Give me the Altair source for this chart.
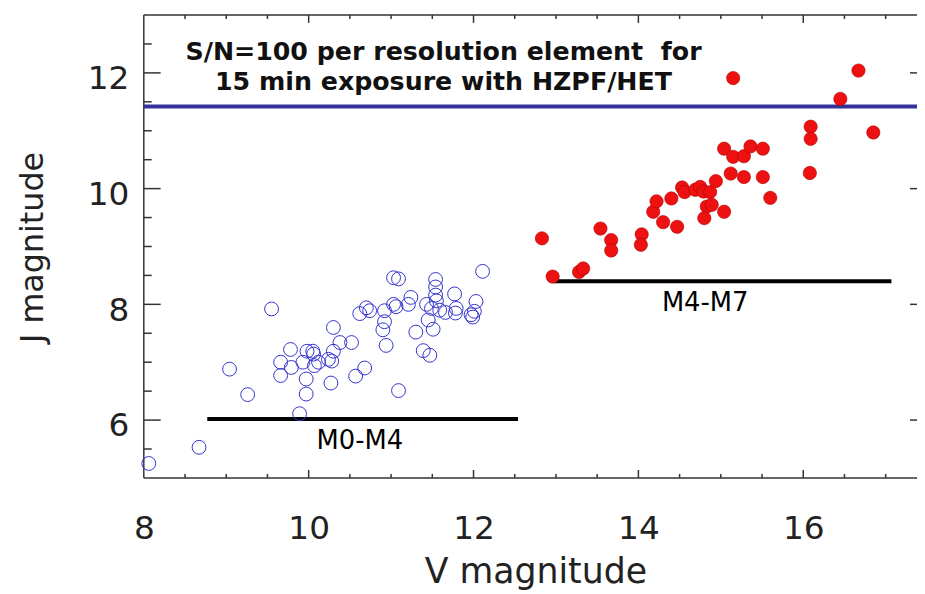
import altair as alt
import pandas as pd

# ---------------- data ----------------
v_m0m4 = [8.06, 8.67, 9.04, 9.26, 9.55, 9.89, 9.97, 9.97, 9.66, 9.66, 9.78, 9.79, 9.93, 9.98,
          10.05, 10.06, 10.07, 10.12, 10.24, 10.28, 10.30, 10.38, 10.30, 10.27, 10.52, 10.57,
          10.68, 10.62, 10.70, 10.74, 10.92, 10.92, 10.90, 10.94, 11.03, 11.09, 11.03, 11.06,
          11.09, 11.21, 11.24, 11.30, 11.39, 11.47, 11.43, 11.45, 11.51, 11.49, 11.54, 11.54,
          11.54, 11.55, 11.59, 11.66, 11.77, 11.79, 11.78, 11.97, 11.99, 12.03, 12.11, 12.01]
j_m0m4 = [5.25, 5.53, 6.88, 6.44, 7.92, 6.11, 6.45, 6.71, 6.77, 7.00, 7.22, 6.91, 7.00, 7.19,
          7.19, 7.14, 6.94, 7.00, 7.05, 7.02, 7.19, 7.34, 7.60, 6.64, 7.34, 6.76,
          6.90, 7.84, 7.94, 7.89, 7.89, 7.70, 7.56, 7.29, 8.46, 8.44, 8.00, 7.96,
          6.51, 8.00, 8.12, 7.52, 7.20, 7.12, 8.00, 7.73, 7.57, 7.93, 8.43, 8.30,
          8.16, 8.06, 7.90, 7.86, 8.18, 7.93, 7.85, 7.82, 7.78, 8.05, 8.57, 7.88]

v_m4m7 = [12.83, 12.96, 13.28, 13.33, 13.54, 13.67, 13.67, 14.04, 14.03, 14.18, 14.22, 14.30,
          14.40, 14.47, 14.53, 14.56, 14.69, 14.75, 14.79, 14.87, 14.83, 14.80, 14.89, 14.94,
          15.04, 15.04, 15.12, 15.15, 15.15, 15.28, 15.28, 15.36, 15.51, 15.51, 15.60, 16.09,
          16.09, 16.08, 16.45, 16.67, 16.85]
j_m4m7 = [9.14, 8.48, 8.56, 8.62, 9.31, 9.11, 8.93, 9.21, 9.03, 9.60, 9.78, 9.42,
          9.83, 9.34, 10.02, 9.94, 9.98, 10.03, 9.95, 9.94, 9.69, 9.49, 9.72, 10.13,
          9.60, 10.69, 10.26, 10.55, 11.91, 10.56, 10.20, 10.73, 10.69, 10.20, 9.84, 11.07,
          10.86, 10.27, 11.55, 12.04, 10.97]

sn_limit_j = 11.42
range_labels = ["M0-M4", "M4-M7"]
range_v_start = [8.77, 12.97]
range_v_end = [12.54, 17.07]
range_j = [6.02, 8.40]
range_label_v = [10.62, 14.81]
range_label_j = [5.50, 7.89]

note_lines = ["S/N=100 per resolution element\u00a0 for", "15 min exposure with HZPF/HET"]

x_frame = [8, 17.5]          # full frame of the original plot (right edge is cut off)
x_visible = [8, 17.38]       # part of it that is visible in the picture
y_domain = [5, 13]
x_labels = [8, 10, 12, 14, 16]
y_labels = [6, 8, 10, 12]
x_major = [10, 12, 14, 16]
x_minor = [8.5, 9, 9.5, 10.5, 11, 11.5, 12.5, 13, 13.5, 14.5, 15, 15.5, 16.5, 17]
y_major = [6, 8, 10, 12]
y_minor = [5.5, 6.5, 7, 7.5, 8.5, 9, 9.5, 10.5, 11, 11.5, 12.5]

# ---------------- layout / style ----------------
W, H = 780, 467
FONT = "DejaVu Sans"
INK = "#222222"
AX = "#333333"

xs = alt.Scale(domain=x_visible, nice=False, zero=False)
ys = alt.Scale(domain=y_domain, nice=False, zero=False)

xaxis = alt.Axis(title="V magnitude", values=x_labels, ticks=False, tickSize=0, domain=False,
                 grid=False, labelFont=FONT, labelFontSize=33, labelColor=INK, labelPadding=35,
                 labelBaseline="top", labelFlush=False, labelOverlap=False,
                 titleFont=FONT, titleFontSize=35, titleFontWeight="normal", titleColor=INK,
                 titleX=395, titleY=105, titleBaseline="alphabetic", titleAlign="center")
yaxis = alt.Axis(title="J magnitude", values=y_labels, ticks=False, tickSize=0, domain=False,
                 grid=False, labelFont=FONT, labelFontSize=33, labelColor=INK, labelPadding=15,
                 labelOffset=6, labelBaseline="middle", labelFlush=False, labelOverlap=False,
                 titleFont=FONT, titleFontSize=32, titleFontWeight="normal", titleColor=INK,
                 titleX=-102, titleY=234, titleAngle=270, titleBaseline="alphabetic",
                 titleAlign="center")


def X(field):
    return alt.X(field, type="quantitative", scale=xs, axis=xaxis)


def Y(field):
    return alt.Y(field, type="quantitative", scale=ys, axis=yaxis)


# frame: top, bottom and left edges (the right edge is cut off, as in the original)
top_df = pd.DataFrame({"a": [x_frame[0]], "b": [x_frame[1]], "j": [y_domain[1]]})
top_line = alt.Chart(top_df).mark_rule(color=AX, strokeWidth=1.5).encode(
    x=X("a"), x2="b", y=Y("j"))
bot_df = pd.DataFrame({"a": [x_frame[0]], "b": [x_frame[1]], "j": [y_domain[0]]})
bot_line = alt.Chart(bot_df).mark_rule(color=AX, strokeWidth=1.5).encode(
    x=X("a"), x2="b", y=Y("j"))
left_df = pd.DataFrame({"v": [x_frame[0]], "lo": [y_domain[0]], "hi": [y_domain[1]]})
left_line = alt.Chart(left_df).mark_rule(color=AX, strokeWidth=1.5).encode(
    x=X("v"), y=Y("lo"), y2="hi")


# ticks pointing inward on all four sides
def xticks(vals, length):
    df = pd.DataFrame({"v": vals, "lo": [y_domain[0]] * len(vals), "hi": [y_domain[1]] * len(vals)})
    bottom = alt.Chart(df).mark_rule(color=AX, strokeWidth=1.5, y2Offset=-length).encode(
        x=X("v"), y=Y("lo"), y2="lo")
    top = alt.Chart(df).mark_rule(color=AX, strokeWidth=1.5, y2Offset=length).encode(
        x=X("v"), y=Y("hi"), y2="hi")
    return [bottom, top]


def yticks(vals, length):
    df = pd.DataFrame({"j": vals, "lo": [x_frame[0]] * len(vals), "hi": [x_frame[1]] * len(vals)})
    left = alt.Chart(df).mark_rule(color=AX, strokeWidth=1.5, x2Offset=length).encode(
        y=Y("j"), x=X("lo"), x2="lo")
    right = alt.Chart(df).mark_rule(color=AX, strokeWidth=1.5, x2Offset=-length).encode(
        y=Y("j"), x=X("hi"), x2="hi")
    return [left, right]


tick_layers = xticks(x_major, 8) + xticks(x_minor, 4) + yticks(y_major, 17) + yticks(y_minor, 8)

# S/N limit line
sn_df = pd.DataFrame({"a": [x_frame[0]], "b": [x_frame[1]], "j": [sn_limit_j]})
sn_line = alt.Chart(sn_df).mark_rule(color="#333399", strokeWidth=4).encode(
    x=X("a"), x2="b", y=Y("j"))

# spectral type range bars and labels
rng_df = pd.DataFrame({"label": range_labels, "a": range_v_start, "b": range_v_end, "j": range_j,
                       "lv": range_label_v, "lj": range_label_j})
rng_bars = alt.Chart(rng_df).mark_rule(color="black", strokeWidth=4).encode(
    x=X("a"), x2="b", y=Y("j"))
rng_text = alt.Chart(rng_df).mark_text(font=FONT, fontSize=26, color="black",
                                       baseline="alphabetic", align="center").encode(
    x=X("lv"), y=Y("lj"), text="label")

# annotation
note_df = pd.DataFrame({"v": [11.636], "j": [12.227]})
note = alt.Chart(note_df).mark_text(font=FONT, fontSize=25.5, fontWeight="bold", color="#111111",
                                    align="center", baseline="alphabetic", lineHeight=30.6,
                                    text=note_lines).encode(x=X("v"), y=Y("j"))

# stars
blue_df = pd.DataFrame({"v": v_m0m4, "j": j_m0m4})
blue = alt.Chart(blue_df).mark_point(shape="circle", filled=False, size=195, strokeWidth=1,
                                     color="#3333cc", opacity=1).encode(x=X("v"), y=Y("j"))
red_df = pd.DataFrame({"v": v_m4m7, "j": j_m4m7})
red = alt.Chart(red_df).mark_circle(size=180, color="#ee1111", opacity=1, stroke="#b00000",
                                    strokeWidth=0.6).encode(x=X("v"), y=Y("j"))

chart = alt.layer(
    top_line, bot_line, left_line, *tick_layers, sn_line, rng_bars, rng_text, note, blue, red
).properties(
    width=W, height=H,
    autosize=alt.AutoSizeParams(type="none"),
    padding={"left": 137, "right": 0, "top": 4.5, "bottom": 115},
    background="white",
).configure_view(stroke="transparent", strokeWidth=0)

chart.save("out.html", embed_options={"renderer": "svg", "actions": False})
